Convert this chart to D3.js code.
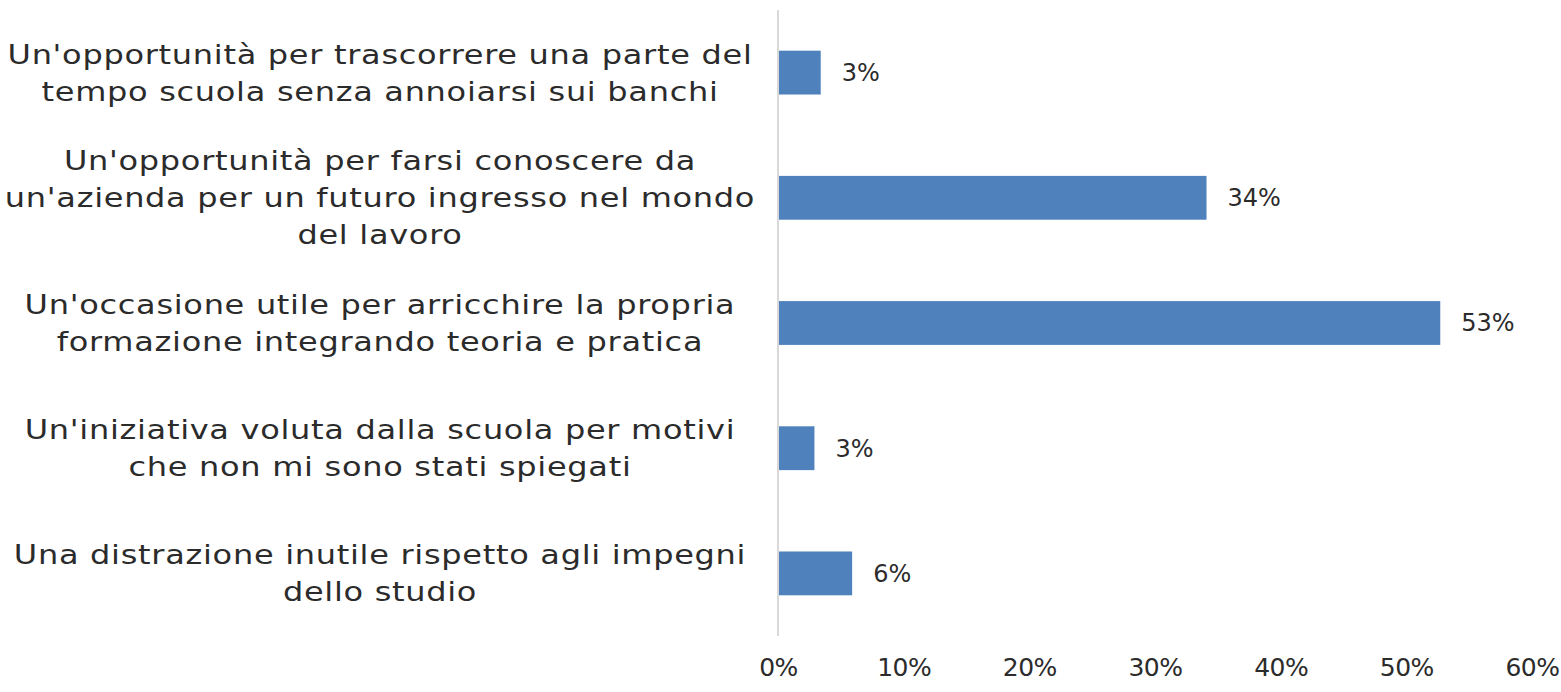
<!DOCTYPE html>
<html>
<head>
<meta charset="utf-8">
<script src="https://cdn.jsdelivr.net/npm/d3@7"></script>
<style>
  html, body { margin: 0; padding: 0; background: #fff; }
  svg { display: block; }
  text { font-family: "DejaVu Sans", sans-serif; fill: #2b2b2b; }
</style>
</head>
<body>
<svg id="chart" width="1561" height="692"></svg>
<script>
const categories = [
  ["Un'opportunità per trascorrere una parte del", "tempo scuola senza annoiarsi sui banchi"],
  ["Un'opportunità per farsi conoscere da", "un'azienda per un futuro ingresso nel mondo", "del lavoro"],
  ["Un'occasione utile per arricchire la propria", "formazione integrando teoria e pratica"],
  ["Un'iniziativa voluta dalla scuola per motivi", "che non mi sono stati spiegati"],
  ["Una distrazione inutile rispetto agli impegni", "dello studio"]
];
const values = [0.034, 0.341, 0.527, 0.029, 0.059];
const tickValues = [0, 0.1, 0.2, 0.3, 0.4, 0.5, 0.6];

const svg = d3.select("#chart");
const x = d3.scaleLinear().domain([0, 0.6]).range([778, 1532]);
const y = d3.scaleBand().domain(d3.range(categories.length)).range([10, 636])
  .paddingInner(0.65).paddingOuter(0.325);
const fmt = d3.format(".0%");

// bars
svg.selectAll("rect.bar").data(values).join("rect")
  .attr("class", "bar")
  .attr("x", x(0))
  .attr("y", (d, i) => y(i))
  .attr("width", d => x(d) - x(0))
  .attr("height", y.bandwidth())
  .attr("fill", "#4F81BD");

// axis line
svg.append("line")
  .attr("x1", x(0)).attr("x2", x(0))
  .attr("y1", 10).attr("y2", 636)
  .attr("stroke", "#d9d9d9").attr("stroke-width", 2);

// x tick labels
const xAxis = d3.axisBottom(x).tickValues(tickValues).tickFormat(fmt).tickSize(0).tickPadding(0);
const gx = svg.append("g").attr("transform", "translate(0,658)").call(xAxis);
gx.select(".domain").remove();
gx.selectAll("text").attr("font-size", 25).attr("fill", "#2b2b2b")
  .attr("font-family", "DejaVu Sans, sans-serif").attr("dy", "0.71em")
  .attr("letter-spacing", "-0.5px");

// value labels
svg.selectAll("text.val").data(values).join("text")
  .attr("class", "val")
  .attr("x", d => x(d) + 21)
  .attr("y", (d, i) => y(i) + y.bandwidth() / 2)
  .attr("dy", "0.35em")
  .attr("font-size", 24)
  .text(d => fmt(d));

// category labels
const lineH = 37;
const lab = svg.selectAll("text.cat").data(categories).join("text")
  .attr("class", "cat")
  .attr("text-anchor", "middle")
  .attr("font-size", 27)
  .attr("letter-spacing", "0.6px")
  .attr("transform", "translate(380,0) scale(1.185,1)");
lab.each(function(lines, i) {
  const cy = y(i) + y.bandwidth() / 2;
  const n = lines.length;
  d3.select(this).selectAll("tspan").data(lines).join("tspan")
    .attr("x", 0)
    .attr("y", (l, j) => cy + (j - (n - 1) / 2) * lineH)
    .attr("dy", "0.35em")
    .text(l => l);
});
</script>
</body>
</html>
